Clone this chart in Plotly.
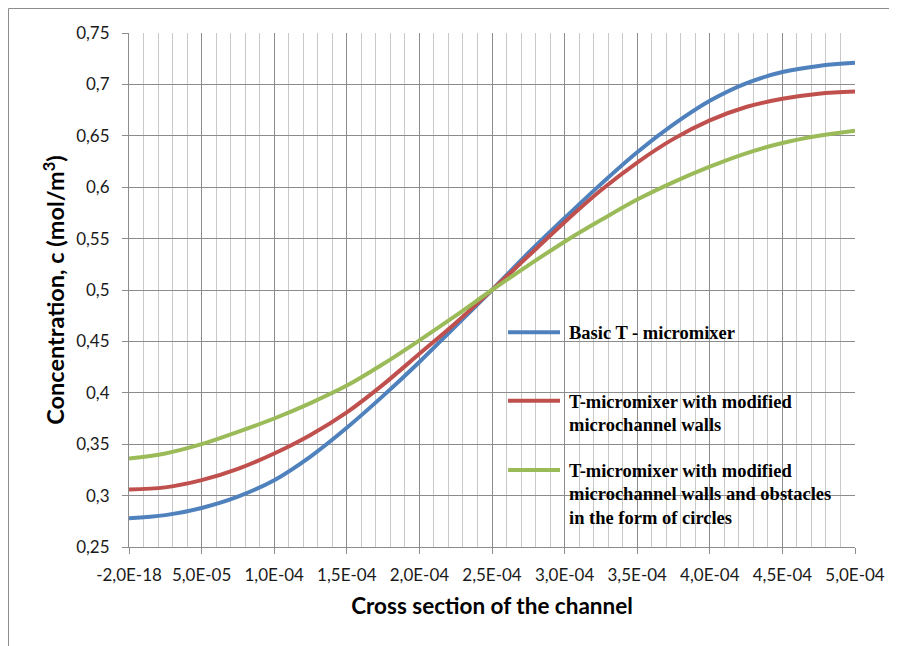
import plotly.graph_objects as go

# ---- data ----
x_vals = [0, 2.5e-5, 5e-5, 7.5e-5, 1e-4, 1.25e-4, 1.5e-4, 1.75e-4, 2e-4, 2.25e-4, 2.5e-4,
          2.75e-4, 3e-4, 3.25e-4, 3.5e-4, 3.75e-4, 4e-4, 4.25e-4, 4.5e-4, 4.75e-4, 5e-4]
basic = [0.278, 0.281, 0.288, 0.299, 0.315, 0.338, 0.366, 0.397, 0.430, 0.465, 0.500,
         0.536, 0.570, 0.603, 0.634, 0.661, 0.684, 0.701, 0.712, 0.718, 0.721]
modified_walls = [0.306, 0.308, 0.315, 0.326, 0.341, 0.359, 0.381, 0.408, 0.438, 0.468, 0.500,
                  0.533, 0.566, 0.597, 0.624, 0.647, 0.665, 0.678, 0.686, 0.691, 0.693]
walls_obstacles = [0.336, 0.341, 0.350, 0.362, 0.375, 0.390, 0.407, 0.428, 0.451, 0.475, 0.500,
                   0.524, 0.547, 0.568, 0.588, 0.605, 0.620, 0.633, 0.643, 0.650, 0.655]

series_names = [
    "Basic T - micromixer",
    "T-micromixer with modified microchannel walls",
    "T-micromixer with modified microchannel walls and obstacles in the form of circles",
]
legend_lines = [
    ["Basic T - micromixer"],
    ["T-micromixer with modified", "microchannel walls"],
    ["T-micromixer with modified", "microchannel walls and obstacles", "in the form of circles"],
]
series_colors = ["#4F81BD", "#C0504D", "#9BBB59"]

x_tickvals = [0, 5e-5, 1e-4, 1.5e-4, 2e-4, 2.5e-4, 3e-4, 3.5e-4, 4e-4, 4.5e-4, 5e-4]
x_ticktext = ["-2,0E-18", "5,0E-05", "1,0E-04", "1,5E-04", "2,0E-04", "2,5E-04",
              "3,0E-04", "3,5E-04", "4,0E-04", "4,5E-04", "5,0E-04"]
y_tickvals = [0.25, 0.30, 0.35, 0.40, 0.45, 0.50, 0.55, 0.60, 0.65, 0.70, 0.75]
y_ticktext = ["0,25", "0,3", "0,35", "0,4", "0,45", "0,5", "0,55", "0,6", "0,65", "0,7", "0,75"]

x_title = "Cross section of the channel"
y_title = "Concentration, c (mol/m<sup>3</sup>)"

# page has an 8px body margin, so the figure is sized/offset to compensate
OFF = 8
W, H = 897 - OFF, 646 - OFF
L, R, T, B = 129 - OFF, 42, 33 - OFF, 99
PW, PH = W - L - R, H - T - B


def px(page_x):
    return (page_x - OFF - L) / PW


def py(page_y):
    return (H - B - (page_y - OFF)) / PH


fig = go.Figure()
for name, ys, col in zip(series_names, [basic, modified_walls, walls_obstacles], series_colors):
    fig.add_trace(go.Scatter(
        x=x_vals, y=ys, name=name, mode="lines",
        line=dict(color=col, width=4, shape="spline", smoothing=1.0),
        showlegend=False,
    ))

tick_font = dict(family="Lato, Open Sans, sans-serif", size=17, color="#1a1a1a")

fig.update_layout(
    width=W, height=H,
    margin=dict(l=L, r=R, t=T, b=B, autoexpand=False),
    paper_bgcolor="white", plot_bgcolor="white",
    showlegend=False,
    xaxis=dict(
        range=[0, 5e-4], tickmode="array", tickvals=x_tickvals, ticktext=x_ticktext,
        showgrid=True, gridcolor="#8c8c8c", gridwidth=1,
        showline=True, linecolor="#8c8c8c", linewidth=1, mirror=False,
        ticks="outside", ticklen=6, tickcolor="#8c8c8c", tickwidth=1,
        tickfont=tick_font, ticklabelstandoff=7, zeroline=False, automargin=False,
        minor=dict(tickmode="linear", tick0=0, dtick=1e-5, showgrid=True,
                   gridcolor="#c8c8c8", gridwidth=1, ticks=""),
        title=dict(text="<b>" + x_title + "</b>",
                   font=dict(family="Lato, Open Sans, sans-serif", size=22.5, color="#000000"),
                   standoff=13),
    ),
    yaxis=dict(
        range=[0.25, 0.75], tickmode="array", tickvals=y_tickvals, ticktext=y_ticktext,
        showgrid=True, gridcolor="#8c8c8c", gridwidth=1,
        showline=True, linecolor="#8c8c8c", linewidth=1,
        ticks="outside", ticklen=6, tickcolor="#8c8c8c", tickwidth=1,
        tickfont=tick_font, ticklabelstandoff=9, zeroline=False, automargin=False,
        title=dict(text="<b>" + y_title + "</b>",
                   font=dict(family="Lato, Open Sans, sans-serif", size=23.5, color="#000000"),
                   standoff=4),
    ),
)

# outer chart border (cropped on right/bottom like the reference)
fig.add_shape(type="rect", xref="paper", yref="paper",
              x0=px(8.5), x1=px(910), y0=py(660), y1=py(8.5),
              line=dict(color="#8c8c8c", width=1), fillcolor="rgba(0,0,0,0)", layer="above")

# legend box (white, hides gridlines)
fig.add_shape(type="rect", xref="paper", yref="paper",
              x0=px(504), x1=px(852), y0=py(530), y1=py(319),
              line=dict(width=0), fillcolor="white", layer="between")

legend_font = dict(family="Liberation Serif, Times New Roman, serif", size=18.5, color="#000000")
symbol_y = [332.3, 400.7, 470.0]
for lines, col, sy in zip(legend_lines, series_colors, symbol_y):
    fig.add_shape(type="line", xref="paper", yref="paper",
                  x0=px(508), x1=px(560), y0=py(sy), y1=py(sy),
                  line=dict(color=col, width=4), layer="above")
    for i, line_text in enumerate(lines):
        fig.add_annotation(xref="paper", yref="paper", x=px(567), y=py(sy + 1 + i * 23.3),
                           xanchor="left", yanchor="middle", showarrow=False,
                           text="<b>" + line_text + "</b>", font=legend_font)

fig.write_html("out.html")
